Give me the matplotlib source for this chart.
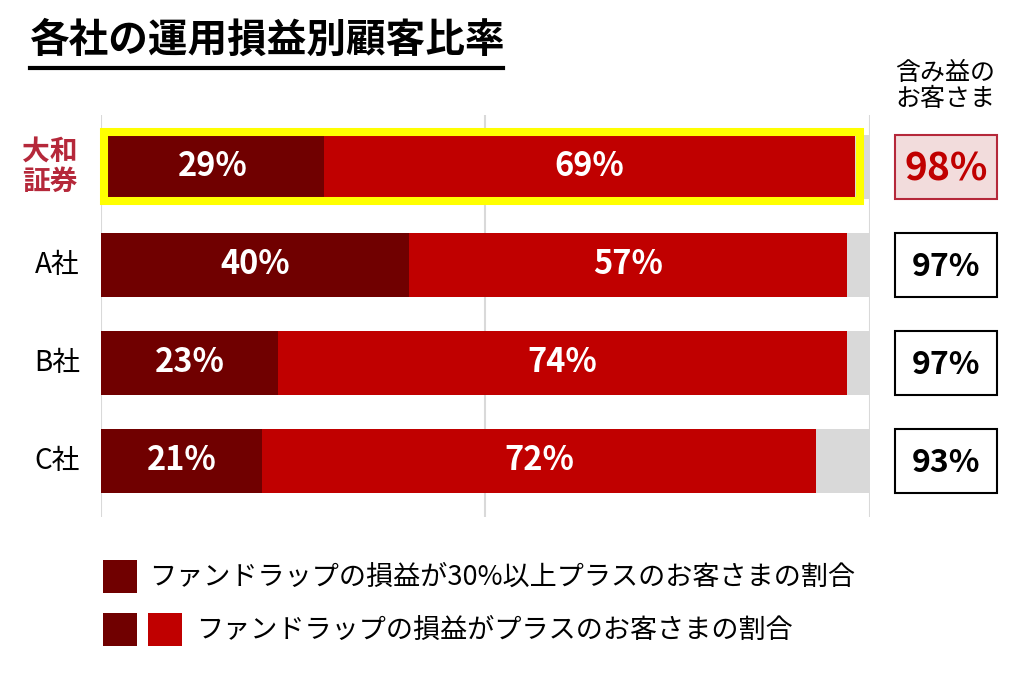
import matplotlib
matplotlib.use("Agg")
import matplotlib.pyplot as plt
from matplotlib.patches import Rectangle

plt.rcParams['font.family'] = ['Noto Sans CJK JP', 'DejaVu Sans']

companies = ['大和\n証券', 'A社', 'B社', 'C社']
over30 = [29, 40, 23, 21]          # 30%以上プラス
plus_rest = [69, 57, 74, 72]       # プラス (残り)
total_plus = [98, 97, 97, 93]      # 含み益のお客さま

title = '各社の運用損益別顧客比率'
right_header = '含み益の\nお客さま'
legend1 = 'ファンドラップの損益が30%以上プラスのお客さまの割合'
legend2 = 'ファンドラップの損益がプラスのお客さまの割合'

DARK = '#700000'
RED = '#c00000'
GREY = '#d9d9d9'
YELLOW = '#ffff00'
HL = '#b5283a'

W, H = 1020, 676
fig = plt.figure(figsize=(W / 100, H / 100), dpi=100)

def fx(px):
    return px / W

def fy(py):
    return 1 - py / H

# main axes: x 0..100 maps to px 101..870, y px 115..517
ax = fig.add_axes([fx(101), fy(517), fx(870) - fx(101), (517 - 115) / H])
n = len(companies)
ax.set_xlim(0, 100)
ax.set_ylim(3 + (517 - 461) / 98, -(167 - 115) / 98)
for s in ax.spines.values():
    s.set_visible(False)
ax.set_xticks([])
ax.set_yticks([])
for xv in [0, 50, 100]:
    ax.axvline(xv, color='#d9d9d9', lw=1.5, zorder=0)

bh = 64 / 98
ys = list(range(n))
ax.barh(ys, [100] * n, height=bh, color=GREY, zorder=1)
ax.barh(ys, over30, height=bh, color=DARK, zorder=2)
ax.barh(ys, plus_rest, left=over30, height=bh, color=RED, zorder=2)

# highlight yellow frame for first row
fh = 69 / 98
ax.add_patch(Rectangle((0.4, -fh / 2 - 0.005), total_plus[0] + 0.3, fh, fill=False,
                       edgecolor=YELLOW, lw=5.8, zorder=3, clip_on=False))

for i in range(n):
    ax.text(over30[i] / 2, i, f'{over30[i]}%', ha='center', va='center',
            color='white', fontsize=23.5, fontweight='bold', zorder=4)
    ax.text(over30[i] + plus_rest[i] / 2, i, f'{plus_rest[i]}%', ha='center',
            va='center', color='white', fontsize=23.5, fontweight='bold', zorder=4)
    # left labels
    if i == 0:
        ax.text(-6.6, i, companies[i], ha='center', va='center', color=HL,
                fontsize=20, fontweight='bold', linespacing=1.1, clip_on=False)
    else:
        ax.text(-5.7, i, companies[i], ha='center', va='center', color='black',
                fontsize=20, clip_on=False)
    # right boxes
    x0 = (895 - 101) / 7.69
    x1 = (997 - 101) / 7.69
    if i == 0:
        ax.add_patch(Rectangle((x0, i - bh / 2), x1 - x0, bh, facecolor='#f2dcdc',
                               edgecolor=HL, lw=1.5, clip_on=False))
        ax.text((x0 + x1) / 2, i + 0.02, f'{total_plus[i]}%', ha='center', va='center',
                color=RED, fontsize=28, fontweight='bold', clip_on=False)
    else:
        ax.add_patch(Rectangle((x0, i - bh / 2), x1 - x0, bh, facecolor='white',
                               edgecolor='black', lw=1.5, clip_on=False))
        ax.text((x0 + x1) / 2, i + 0.02, f'{total_plus[i]}%', ha='center', va='center',
                color='black', fontsize=23, fontweight='bold', clip_on=False)

# right header
fig.text(fx(945), fy(86), right_header, ha='center', va='center', fontsize=18,
         linespacing=1.05)

# title with underline
fig.text(fx(29), fy(40), title, ha='left', va='center', fontsize=28.5, fontweight='bold')
fig.add_artist(plt.Line2D([fx(30), fx(503)], [fy(68), fy(68)], color='black', lw=3))

# legend
fig.add_artist(Rectangle((fx(103), fy(593)), 34 / W, 33 / H, facecolor=DARK,
                         transform=fig.transFigure))
fig.text(fx(149), fy(577), legend1, ha='left', va='center', fontsize=19.5)
fig.add_artist(Rectangle((fx(103), fy(646)), 34 / W, 33 / H, facecolor=DARK,
                         transform=fig.transFigure))
fig.add_artist(Rectangle((fx(148), fy(646)), 34 / W, 33 / H, facecolor=RED,
                         transform=fig.transFigure))
fig.text(fx(196), fy(630), legend2, ha='left', va='center', fontsize=19.5)

fig.savefig('out.png', dpi=100, facecolor='white')
